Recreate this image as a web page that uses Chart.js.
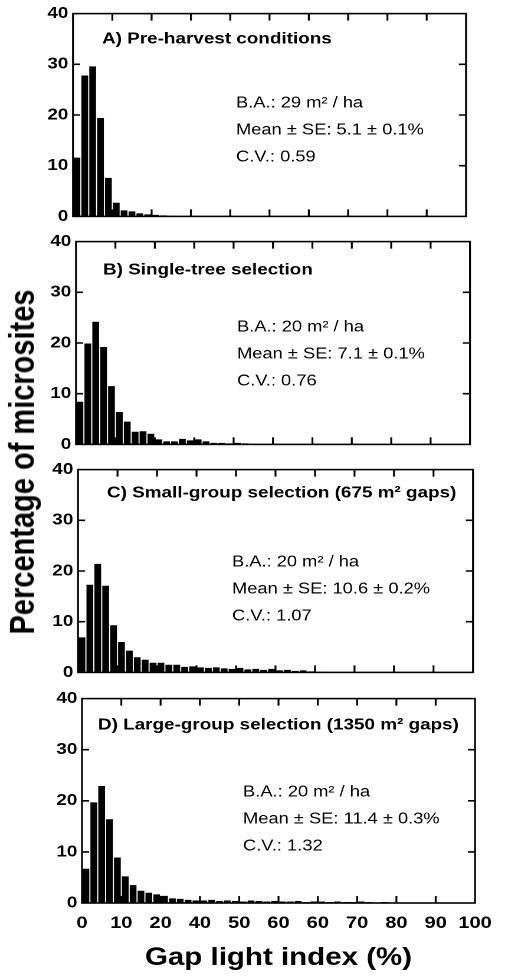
<!DOCTYPE html>
<html>
<head>
<meta charset="utf-8">
<script src="https://cdn.jsdelivr.net/npm/chart.js@4.4.1/dist/chart.umd.min.js"></script>
<style>
  body { margin: 0; background: #fff; }
  /* the printed figure is wider than its type, so the whole thing is stretched */
  #wrap { position: absolute; left: 0; top: 0; width: 433px; height: 976px; transform: scaleX(1.18); transform-origin: 0 0; }
  #wrap canvas { position: absolute; left: 0; }
  #ytitle { position: absolute; left: 19px; top: 462px; transform: translate(-50%, -50%) rotate(-90deg);
            font: bold 29px Arial, "Liberation Sans", sans-serif; white-space: nowrap; color: #000; }
</style>
</head>
<body>
<div id="wrap">
  <canvas id="pA"></canvas>
  <canvas id="pB"></canvas>
  <canvas id="pC"></canvas>
  <canvas id="pD"></canvas>
  <div id="ytitle">Percentage of microsites</div>
</div>
<script>
const FONT = 'Arial, "Liberation Sans", sans-serif';
const STRETCH = 1.18;

// % of microsites in each 2 % class of gap light index (0-2, 2-4, ...)
const preHarvest = [11.6, 27.8, 29.6, 19.4, 7.6, 2.7, 1.2, 1.0, 0.6, 0.4, 0.3, 0.2, 0.1];
const singleTree = [8.4, 19.9, 24.2, 19.2, 11.5, 6.4, 4.5, 2.5, 2.6, 2.1, 1.0, 0.6, 0.6, 1.1, 0.8,
                    1.0, 0.6, 0.3, 0.3, 0.2, 0.3, 0.2, 0.1];
const smallGroup = [6.9, 17.3, 21.4, 17.1, 9.3, 6.0, 4.3, 3.0, 2.5, 1.9, 1.9, 1.5, 1.5, 1.1, 1.2,
                    1.0, 0.9, 1.0, 0.8, 0.7, 0.9, 0.6, 0.7, 0.5, 0.7, 0.4, 0.5, 0.3, 0.4, 0.2, 0.1];
const largeGroup = [6.7, 19.7, 22.9, 16.4, 8.9, 5.2, 3.5, 2.4, 2.0, 1.7, 1.4, 0.9, 0.8, 0.6, 0.5,
                    0.5, 0.6, 0.4, 0.5, 0.4, 0.3, 0.5, 0.4, 0.3, 0.4, 0.3, 0.3, 0.4, 0.2, 0.3,
                    0.3, 0.2, 0.3, 0.2, 0.2, 0.3, 0.2, 0.1, 0.2, 0.1];
const binWidth = 2;

// tick labels exactly as printed under the bottom panel (0, 10, ... 100 positions)
const xTickLabels = ['0', '10', '20', '40', '50', '60', '60', '70', '80', '90', '100'];

const panelTitles = ['A) Pre-harvest conditions', 'B) Single-tree selection',
                     'C) Small-group selection (675 m² gaps)', 'D) Large-group selection (1350 m² gaps)'];
const basalArea = ['B.A.: 29 m² / ha', 'B.A.: 20 m² / ha', 'B.A.: 20 m² / ha', 'B.A.: 20 m² / ha'];
const meanSE = ['Mean ± SE: 5.1 ± 0.1%', 'Mean ± SE: 7.1 ± 0.1%', 'Mean ± SE: 10.6 ± 0.2%', 'Mean ± SE: 11.4 ± 0.3%'];
const coefVar = ['C.V.: 0.59', 'C.V.: 0.76', 'C.V.: 1.07', 'C.V.: 1.32'];

const series = [preHarvest, singleTree, smallGroup, largeGroup];

// page positions (px in the picture) of each panel
const layout = [
  {id: 'pA', top: 0,   height: 230, left: 73, right: 466, title: [102, 39],  stats: [236, 103]},
  {id: 'pB', top: 228, height: 230, left: 76, right: 470, title: [103, 270], stats: [237, 327]},
  {id: 'pC', top: 456, height: 230, left: 78, right: 473, title: [107, 493], stats: [232, 562]},
  {id: 'pD', top: 685, height: 291, left: 82, right: 475, title: [98, 725],  stats: [243, 792]}
];

// box with inward ticks on all four sides
const framePlugin = {
  id: 'frame',
  afterDatasetsDraw(chart) {
    const {ctx, chartArea: a, scales: {x, y}} = chart;
    ctx.save();
    ctx.strokeStyle = '#000';
    ctx.lineWidth = 1.6;
    ctx.strokeRect(a.left, a.top, a.width, a.height);
    ctx.beginPath();
    x.ticks.slice(1, -1).forEach(t => {
      const px = x.getPixelForValue(t.value);
      ctx.moveTo(px, a.top); ctx.lineTo(px, a.top + 7);
      ctx.moveTo(px, a.bottom); ctx.lineTo(px, a.bottom - 7);
    });
    y.ticks.slice(1, -1).forEach(t => {
      const py = y.getPixelForValue(t.value);
      ctx.moveTo(a.left, py); ctx.lineTo(a.left + 6, py);
      ctx.moveTo(a.right, py); ctx.lineTo(a.right - 6, py);
    });
    ctx.stroke();
    ctx.restore();
  }
};

const panelText = {
  id: 'panelText',
  afterDraw(chart, args, opts) {
    const ctx = chart.ctx;
    ctx.save();
    ctx.fillStyle = '#000';
    ctx.textBaseline = 'middle';
    ctx.font = 'bold 16px ' + FONT;
    ctx.fillText(opts.title, opts.titleAt[0], opts.titleAt[1]);
    ctx.font = '15.5px ' + FONT;
    opts.lines.forEach((s, i) => ctx.fillText(s, opts.statsAt[0], opts.statsAt[1] + i * 27));
    ctx.restore();
  }
};

layout.forEach((p, i) => {
  const last = i === layout.length - 1;
  const canvas = document.getElementById(p.id);
  canvas.style.top = p.top + 'px';
  canvas.width = 433;
  canvas.height = p.height;
  const left = p.left / STRETCH;
  const right = 433 - p.right / STRETCH;

  new Chart(canvas, {
    type: 'bar',
    data: {
      datasets: [{
        data: series[i].map((v, k) => ({x: k * binWidth + binWidth / 2, y: v})),
        backgroundColor: '#000',
        borderWidth: 0,
        barPercentage: 0.86,
        categoryPercentage: 1
      }]
    },
    options: {
      responsive: false,
      animation: false,
      devicePixelRatio: 2,
      layout: {padding: {top: 12, bottom: last ? 0 : 12, left: 0, right: right}},
      scales: {
        x: {
          type: 'linear',
          min: 0, max: 100,
          offset: false,
          grid: {display: false, drawTicks: false},
          border: {display: false},
          ticks: {
            display: last,
            stepSize: 10,
            autoSkip: false,
            maxRotation: 0,
            padding: 10,
            color: '#000',
            font: {family: FONT, size: 17, weight: 'bold'},
            callback: v => xTickLabels[Math.round(v / 10)]
          },
          title: {
            display: last,
            text: 'Gap light index (%)',
            color: '#000',
            font: {family: FONT, size: 25, weight: 'bold'},
            padding: {top: 0, bottom: 3}
          },
          afterFit: s => { s.height = last ? 73 : 0; }
        },
        y: {
          min: 0, max: 40,
          grid: {display: false, drawTicks: false},
          border: {display: false},
          ticks: {
            stepSize: 10,
            padding: 4,
            color: '#000',
            font: {family: FONT, size: 16, weight: 'bold'}
          },
          afterFit: s => { s.width = left; }
        }
      },
      plugins: {
        legend: {display: false},
        tooltip: {enabled: false},
        panelText: {
          title: panelTitles[i],
          lines: [basalArea[i], meanSE[i], coefVar[i]],
          titleAt: [p.title[0] / STRETCH, p.title[1] - p.top],
          statsAt: [p.stats[0] / STRETCH, p.stats[1] - p.top]
        }
      }
    },
    plugins: [framePlugin, panelText]
  });
});
</script>
</body>
</html>
